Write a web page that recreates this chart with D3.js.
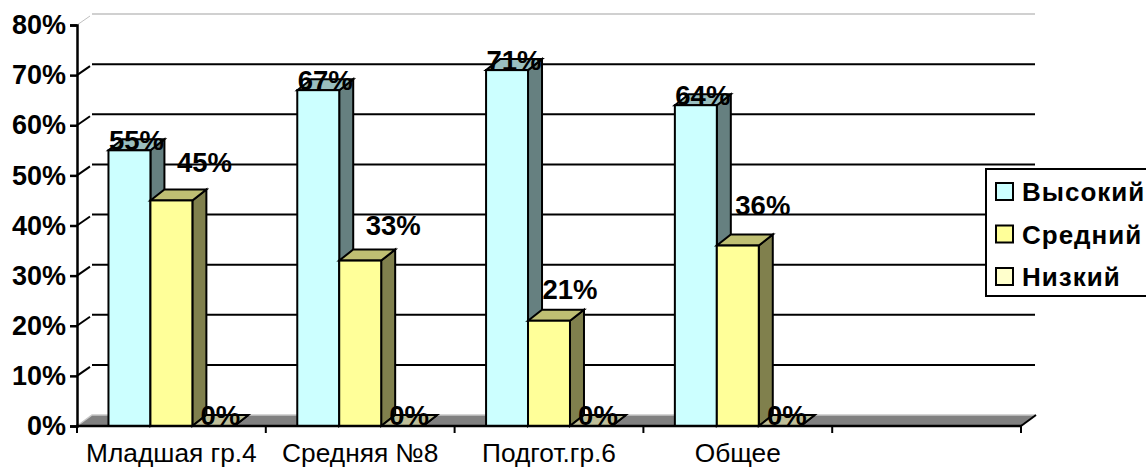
<!DOCTYPE html>
<html>
<head>
<meta charset="utf-8">
<script src="https://cdn.jsdelivr.net/npm/d3@7"></script>
<style>
html, body { margin: 0; padding: 0; background: #fff; overflow: hidden; }
text { font-family: "Liberation Sans", Arial, sans-serif; fill: #000; }
</style>
</head>
<body>
<svg class="graph" width="1146" height="468"></svg>
<script>
let categories = ["Младшая гр.4", "Средняя №8", "Подгот.гр.6", "Общее", ""]
let seriesNames = ["Высокий", "Средний", "Низкий"]
let high = [55, 67, 71, 64]
let mid = [45, 33, 21, 36]
let low = [0, 0, 0, 0]
let yTicks = [0, 10, 20, 30, 40, 50, 60, 70, 80]

let values = [high, mid, low]

let front = ["#ccffff", "#ffff99", "#ffffcc"]
let side = ["#668080", "#80804d", "#808066"]
let top_ = ["#99bfbf", "#bfbf73", "#bfbf99"]

// the labels of the middle series were dragged by hand in the original
let midLabelDx = [54, 54, 42, 46]
let midLabelDy = [-28, -26, -22, -31]

// depth of the fake 3d box
let dx = 15, dy = 11
let depthX = 14

let left = 77, right = 1021, bottom = 426, topY = 25

let x = d3.scaleBand().domain(categories).range([left, right])
let x1 = d3.scaleBand().domain(seriesNames).range([0, x.bandwidth()]).paddingOuter(0.75)
let y = d3.scaleLinear().domain([0, 80]).range([bottom, topY])

let svg = d3.select(".graph")
let poly = pts => pts.map(p => p.join(",")).join(" ")

// floor
svg.append("polygon")
    .attr("points", poly([[left, bottom], [left + dx, bottom - dy], [right + dx, bottom - dy], [right, bottom]]))
    .attr("fill", "#808080")
svg.append("path")
    .attr("d", d3.line()([[left, bottom], [left + dx, bottom - dy], [right + dx, bottom - dy]]))
    .attr("fill", "none")
    .attr("stroke", "#c8c8c8")
    .attr("stroke-width", 1.5)

// gridlines, 0 and 80 are the pale ones
yTicks.forEach(t => {
    if (t == 0) return
    let c = t == 80 ? "#c0c0c0" : "#000"
    svg.append("line")
        .attr("x1", left).attr("x2", left + dx - 2)
        .attr("y1", y(t)).attr("y2", y(t) - dy + 2)
        .attr("stroke", c).attr("stroke-width", t == 80 ? 1 : 2)
    svg.append("line")
        .attr("x1", left + dx).attr("x2", right + dx - 1)
        .attr("y1", y(t) - dy).attr("y2", y(t) - dy)
        .attr("stroke", c).attr("stroke-width", t == 80 ? 1.5 : 2)
})

// bars
categories.slice(0, 4).forEach((cat, i) => {
    seriesNames.forEach((s, j) => {
        let x0 = x(cat) + x1(s), w = x1.bandwidth(), yv = y(values[j][i])
        let g = svg.append("g")
            .attr("stroke", "#000")
            .attr("stroke-width", 2)
            .attr("stroke-linejoin", "miter")
        g.append("polygon")
            .attr("points", poly([[x0 + w, yv], [x0 + w + depthX, yv - dy], [x0 + w + depthX, bottom - dy], [x0 + w, bottom]]))
            .attr("fill", side[j])
        g.append("polygon")
            .attr("points", poly([[x0, yv], [x0 + depthX, yv - dy], [x0 + w + depthX, yv - dy], [x0 + w, yv]]))
            .attr("fill", top_[j])
        g.append("rect")
            .attr("x", x0).attr("y", yv)
            .attr("width", w).attr("height", bottom - yv)
            .attr("fill", front[j])
    })
})

// data labels, drawn after all the bars
categories.slice(0, 4).forEach((cat, i) => {
    seriesNames.forEach((s, j) => {
        let x0 = x(cat) + x1(s), yv = y(values[j][i])
        svg.append("text")
            .attr("x", x0 + (j == 1 ? midLabelDx[i] : 28))
            .attr("y", yv + (j == 1 ? midLabelDy[i] : (j == 0 ? 0 : -1)))
            .attr("text-anchor", "middle")
            .style("font-size", "27.5px")
            .style("font-weight", "bold")
            .text(values[j][i] + "%")
    })
})

// y axis
let yAxis = svg.append("g")
    .attr("transform", "translate(" + left + ",0)")
    .call(d3.axisLeft(y).tickValues(yTicks).tickSize(7).tickPadding(4).tickFormat(d => d + "%"))
yAxis.select(".domain").attr("stroke-width", 2.5)
yAxis.selectAll(".tick line").attr("stroke-width", 2.5)
yAxis.selectAll("text")
    .style("font-size", "27px")
    .style("font-weight", "bold")
    .style("font-family", '"Liberation Sans", Arial, sans-serif')

// x axis, labels centred on the band, ticks on the band edges
let xAxis = svg.append("g")
    .attr("transform", "translate(0," + bottom + ")")
    .call(d3.axisBottom(x).tickSize(0).tickPadding(17))
xAxis.select(".domain").remove()
xAxis.selectAll("text")
    .style("font-size", "26.3px")
    .style("font-family", '"Liberation Sans", Arial, sans-serif')
svg.append("line")
    .attr("x1", left - 1).attr("x2", right + 1)
    .attr("y1", bottom).attr("y2", bottom)
    .attr("stroke", "#000").attr("stroke-width", 2.5)
svg.append("line")
    .attr("x1", right).attr("x2", right + dx)
    .attr("y1", bottom).attr("y2", bottom - dy)
    .attr("stroke", "#000").attr("stroke-width", 2)
categories.forEach(c => {
    svg.append("line")
        .attr("x1", x(c) + x.bandwidth()).attr("x2", x(c) + x.bandwidth())
        .attr("y1", bottom).attr("y2", bottom + 7)
        .attr("stroke", "#000").attr("stroke-width", 2)
})
svg.append("line")
    .attr("x1", left).attr("x2", left)
    .attr("y1", bottom).attr("y2", bottom + 7)
    .attr("stroke", "#000").attr("stroke-width", 2)

// legend
let legend = svg.append("g").attr("transform", "translate(986,169)")
legend.append("rect")
    .attr("width", 170).attr("height", 127)
    .attr("fill", "#fff").attr("stroke", "#000").attr("stroke-width", 2)
seriesNames.forEach((s, j) => {
    let row = legend.append("g").attr("transform", "translate(10," + (14 + j * 42.5) + ")")
    row.append("rect")
        .attr("width", 17).attr("height", 17)
        .attr("fill", front[j]).attr("stroke", "#000").attr("stroke-width", 2)
    row.append("text")
        .attr("x", 26).attr("y", 18)
        .style("font-size", "26px")
        .style("font-weight", "bold")
        .style("letter-spacing", "1px")
        .text(s)
})
</script>
</body>
</html>
